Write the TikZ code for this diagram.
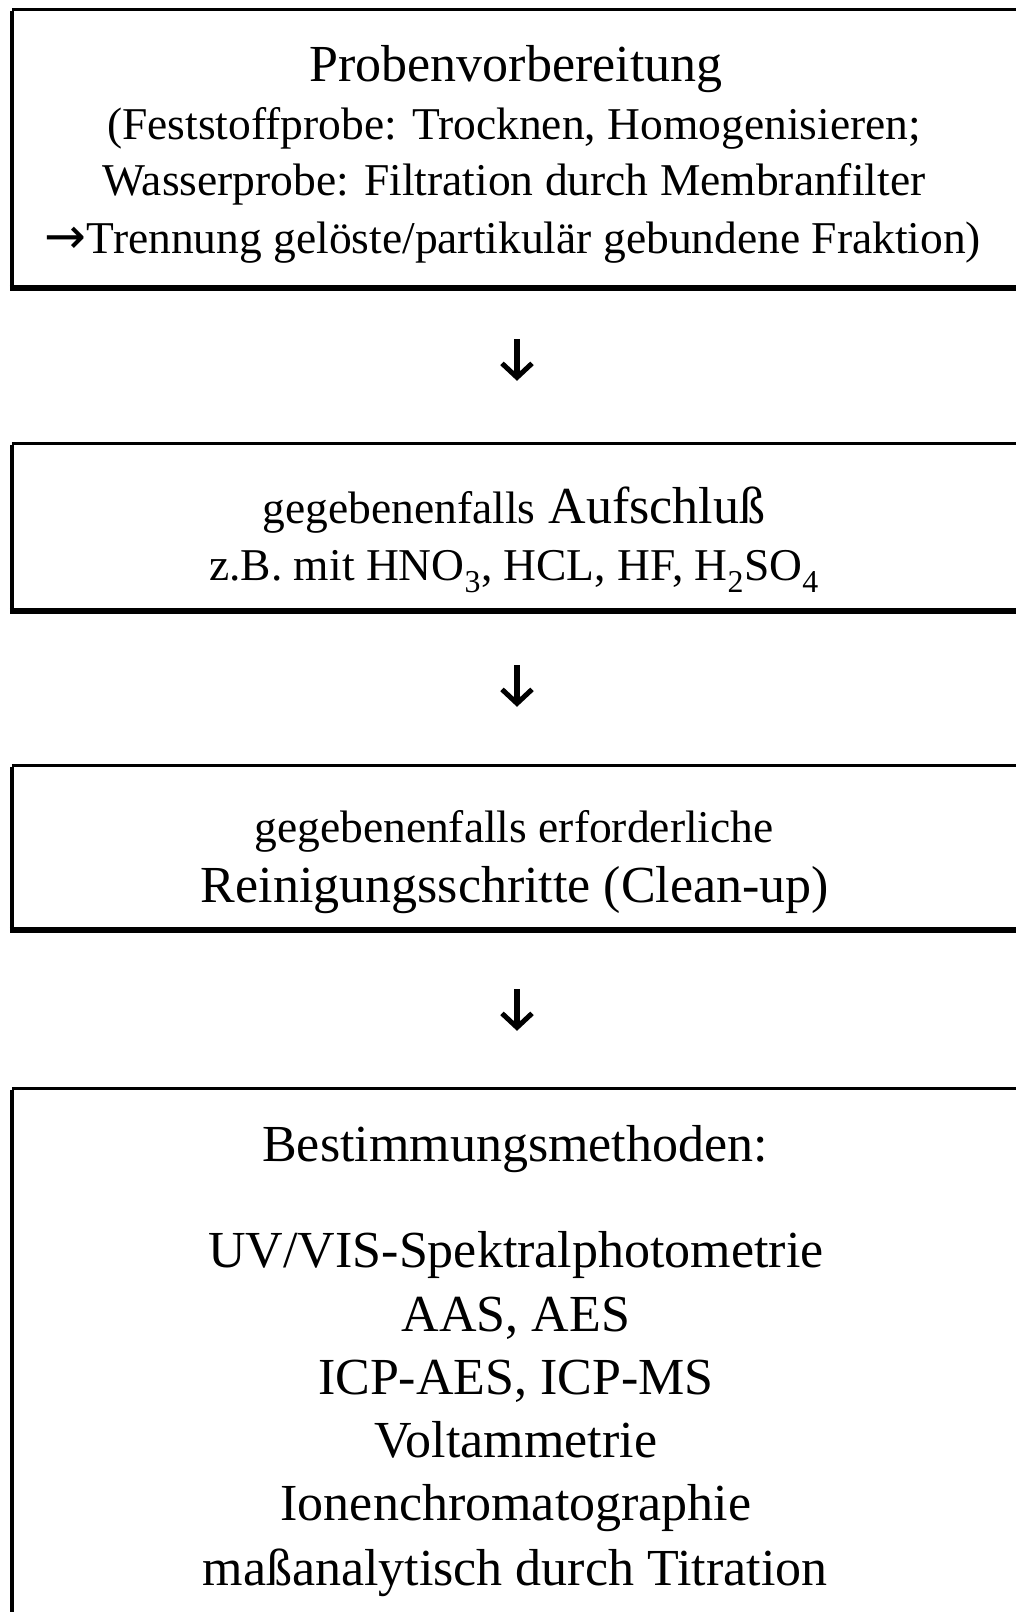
\documentclass[tikz,border=0pt]{standalone}
\usepackage{fontspec}
\setmainfont{Liberation Serif}
\newfontfamily\arrfont{DejaVu Sans}
\usetikzlibrary{arrows.meta}
\begin{document}
\begin{tikzpicture}[x=1pt,y=-1pt,
  big/.style={anchor=base, font=\fontsize{52}{60}\selectfont, inner sep=0pt},
  small/.style={anchor=base, font=\fontsize{45.5}{52}\selectfont, inner sep=0pt},
  box/.style={draw=none, rectangle, inner sep=0pt},
  topln/.style={line width=3pt},
  leftln/.style={line width=4pt},
  botln/.style={line width=6pt},
  arr/.style={line width=6pt, -{Straight Barb[length=14pt,width=30pt,line width=5pt]}}]
\useasboundingbox (0,0) rectangle (1016,1612);
% boxes
\node[box, minimum width=1008pt, minimum height=278pt] (b1) at (516,149) {};
\node[box, minimum width=1008pt, minimum height=167pt] (b2) at (516,527.5) {};
\node[box, minimum width=1008pt, minimum height=164pt] (b3) at (516,848) {};
\node[box, minimum width=1008pt, minimum height=531pt] (b4) at (516,1354.5) {};
\foreach \b in {b1,b2,b3,b4}{
  \draw[topln] (\b.north west) -- (\b.north east);
  \draw[leftln] ([yshift=-1.5pt]\b.north west) -- (\b.south west);
}
\foreach \b in {b1,b2,b3}{
  \draw[botln] ([xshift=-2pt]\b.south west) -- (\b.south east);
}
% texts box 1
\node[big]   (t11) at (516,81)  {Probenvorbereitung};
\node[small] (t12) at (514,139) {(Feststoffprobe: Trocknen, Homogenisieren;};
\node[small] (t13) at (514,195) {Wasserprobe: Filtration durch Membranfilter};
\node[small] (t14) at (513,253) {{\arrfont\fontsize{50}{52}\selectfont →}Trennung gelöste/partikulär gebundene Fraktion)};
% box 2
\node[big]   (t21) at (514,523) {{\fontsize{45.5}{52}\selectfont gegebenenfalls} Aufschluß};
\node[small] (t22) at (514,580) {z.B. mit HNO\textsubscript{3}, HCL, HF, H\textsubscript{2}SO\textsubscript{4}};
% box 3
\node[small] (t31) at (514,842) {gegebenenfalls erforderliche};
\node[big]   (t32) at (515,902) {Reinigungsschritte (Clean-up)};
% box 4
\node[big] (t41) at (515,1161) {Bestimmungsmethoden:};
\node[big] (t42) at (516,1267) {UV/VIS-Spektralphotometrie};
\node[big] (t43) at (516,1331) {AAS, AES};
\node[big] (t44) at (516,1394) {ICP-AES, ICP-MS};
\node[big] (t45) at (516,1457) {Voltammetrie};
\node[big] (t46) at (516,1520) {Ionenchromatographie};
\node[big] (t47) at (515,1585) {maßanalytisch durch Titration};
% arrows
\draw[arr, shorten <=51pt, shorten >=63pt] ([xshift=1pt]b1.south) -- ([xshift=1pt]b2.north);
\draw[arr, shorten <=54pt, shorten >=59pt] ([xshift=1pt]b2.south) -- ([xshift=1pt]b3.north);
\draw[arr, shorten <=59pt, shorten >=58pt] ([xshift=1pt]b3.south) -- ([xshift=1pt]b4.north);
\end{tikzpicture}
\end{document}
